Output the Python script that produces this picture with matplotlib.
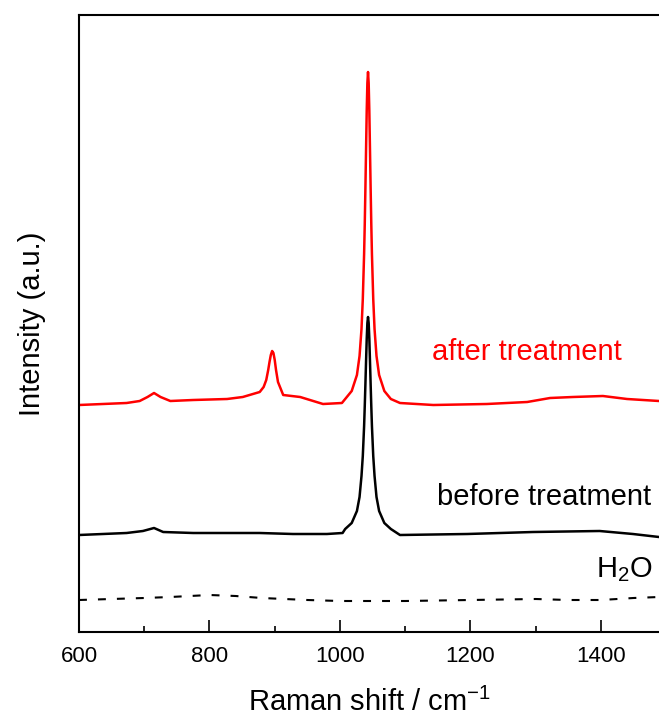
import matplotlib.pyplot as plt
from matplotlib.ticker import MultipleLocator

plt.rcParams['font.family'] = ['Liberation Sans', 'DejaVu Sans']
plt.rcParams['mathtext.fontset'] = 'custom'
plt.rcParams['mathtext.rm'] = 'Liberation Sans'
plt.rcParams['mathtext.it'] = 'Liberation Sans:italic'

# Espectro despues del tratamiento (rojo)
after_x = [600, 673, 693, 705, 715, 725, 740, 775, 827, 851, 877, 883, 887, 890, 892, 894, 896, 898,
           900, 902, 905, 913, 939, 954, 974, 1003, 1008, 1018, 1026, 1030, 1033, 1035,
           1037, 1038, 1039, 1040, 1041, 1042, 1043, 1044, 1045, 1046, 1047, 1048, 1049,
           1051, 1053, 1056, 1060, 1068, 1078, 1092, 1143, 1225, 1287, 1322, 1357, 1403,
           1440, 1489]
after_y = [227, 229, 231, 235, 239, 235, 231, 232, 233, 235, 240, 245, 252, 262, 270, 277, 281, 279,
           272, 262, 250, 237, 235, 232, 228, 229, 233, 241, 257, 276, 303, 333,
           378, 408, 444, 483, 521, 549, 560, 549, 521, 483, 444, 408, 378,
           333, 303, 276, 257, 241, 233, 229, 227, 228, 230, 234, 235, 236,
           233, 231]

# Espectro antes del tratamiento (negro)
before_x = [600, 673, 698, 715, 729, 775, 827, 877, 928, 980, 1004, 1008, 1018, 1026, 1030,
            1033, 1035, 1037, 1038, 1039, 1040, 1041, 1042, 1043, 1044, 1045, 1046, 1047,
            1048, 1049, 1051, 1053, 1056, 1060, 1068, 1078, 1092, 1195, 1296, 1398, 1449, 1489]
before_y = [97, 99, 101, 104, 100, 99, 99, 99, 98, 98, 99, 103, 109, 121, 135,
            156, 176, 206, 226, 248, 271, 293, 309, 315, 309, 293, 271, 248,
            226, 206, 176, 156, 135, 121, 109, 103, 97, 98, 100, 101, 98, 95]

# Agua (linea discontinua)
h2o_x = [600, 650, 700, 740, 800, 840, 880, 950, 1000, 1100, 1200, 1300, 1350, 1400, 1450, 1489]
h2o_y = [32, 33, 34, 35, 37, 36, 34, 32, 31, 31, 32, 33, 32, 32, 34, 35]

fig = plt.figure(figsize=(6.59, 7.17), dpi=100)
ax = fig.add_axes([79/659, 85/717, 580/659, 617/717])

ax.plot(after_x, after_y, color='#ff0000', lw=1.8)
ax.plot(before_x, before_y, color='black', lw=1.8)
ax.plot(h2o_x, h2o_y, color='black', lw=1.5, dashes=(3.8, 5.3))

ax.text(1287, 280, 'after treatment', color='#ff0000', fontsize=21, ha='center', va='center')
ax.text(1313, 135, 'before treatment', color='black', fontsize=21, ha='center', va='center')
ax.text(1392, 62, 'H$_\\mathregular{2}$O', color='black', fontsize=21, ha='left', va='center')

ax.set_xlim(600, 1489)
ax.set_ylim(0, 617)
ax.xaxis.set_major_locator(MultipleLocator(200))
ax.xaxis.set_minor_locator(MultipleLocator(100))
ax.set_yticks([])
ax.tick_params(axis='x', which='major', direction='in', length=8.5, width=1.2,
               labelsize=16, pad=10)
ax.tick_params(axis='x', which='minor', direction='in', length=4.3, width=1.2)
for side in ['left', 'bottom', 'top']:
    ax.spines[side].set_linewidth(1.5)
ax.spines['right'].set_visible(False)

ax.set_xlabel('Raman shift / cm$^{\\mathregular{-1}}$', fontsize=21, labelpad=15)
ax.set_ylabel('Intensity (a.u.)', fontsize=21, labelpad=24)

fig.savefig('out.png', dpi=100)
